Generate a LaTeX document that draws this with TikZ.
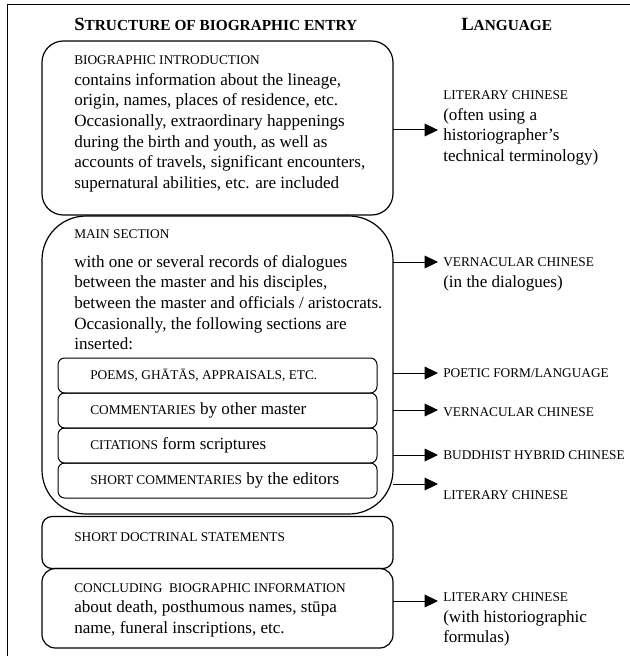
\documentclass[tikz,border=0pt]{standalone}
\usepackage{fontspec}
\setmainfont{Liberation Serif}
\usetikzlibrary{arrows.meta,calc,positioning}
% small capitals made by hand
\newcommand\smc[1]{{\fontsize{10}{15.5}\selectfont #1}}
\newcommand\hdc[2]{{\bfseries\fontsize{14}{16}\selectfont #1}{\bfseries\fontsize{11.5}{16}\selectfont #2}}

\begin{document}
\begin{tikzpicture}[x=0.75pt,y=-0.75pt,
  box/.style={draw,line width=0.9pt,minimum width=263.25pt,inner sep=0pt,outer sep=0pt},
  subbox/.style={draw,line width=0.75pt,rounded corners=5pt,minimum width=239.25pt,
    minimum height=26.25pt,inner sep=0pt,outer sep=0pt},
  txt/.style={anchor=north west,inner sep=0pt,align=left,font=\fontsize{12.8}{15.5}\selectfont},
  subtxt/.style={txt,anchor=west,right=24pt of #1.west},
  arr/.style={line width=0.75pt,-{Triangle[length=10pt,width=9.5pt]}}]
  \useasboundingbox (0,0) rectangle (630,656);
  \draw[line width=0.75pt] (7,656) -- (7,5) -- (630,5);

  % headings
  \node[anchor=base west,inner sep=0pt] (head1) at (74,31) {\hdc{S}{TRUCTURE OF BIOGRAPHIC ENTRY}};
  \node[anchor=base west,inner sep=0pt] (head2) at (461,31) {\hdc{L}{ANGUAGE}};

  % left column
  \node[box,rounded corners=16pt,minimum height=130.5pt] (intro) at (217.5,128) {};
  \node[box,rounded corners=33pt,minimum height=223.5pt] (main) at (217.5,365) {};
  \node[box,rounded corners=7.5pt,minimum height=39pt] (doctr) at (217.5,542.5) {};
  \node[box,rounded corners=10pt,minimum height=59.6pt] (concl) at (217.5,608.25) {};

  \node[txt] (introtxt) at (74,55.5) {\smc{BIOGRAPHIC INTRODUCTION}\\
    contains information about the lineage,\\
    origin, names, places of residence, etc.\\
    Occasionally, extraordinary happenings\\
    during the birth and youth, as well as\\
    accounts of travels, significant encounters,\\
    supernatural abilities, etc. are included};
  \node[txt] (maintxt) at (74,229.5) {\smc{MAIN SECTION}\\[6pt]
    with one or several records of dialogues\\
    between the master and his disciples,\\
    between the master and officials / aristocrats.\\
    Occasionally, the following sections are\\
    inserted:};
  \node[subbox] (poems) at (217.5,375.5) {};
  \node[subbox] (comm) at (217.5,410.5) {};
  \node[subbox] (cit) at (217.5,445.5) {};
  \node[subbox] (short) at (217.5,480.5) {};
  \node[subtxt=poems] (poemstxt) {\smc{POEMS, GHĀTĀS, APPRAISALS, ETC.}};
  \node[subtxt=comm] (commtxt) {\smc{COMMENTARIES} by other master};
  \node[subtxt=cit] (cittxt) {\smc{CITATIONS} form scriptures};
  \node[subtxt=short] (shorttxt) {\smc{SHORT COMMENTARIES} by the editors};
  \node[txt,anchor=base west] (doctrtxt) at (74,541.5) {\smc{SHORT DOCTRINAL STATEMENTS}};
  \node[txt] (concltxt) at (74,583) {\smc{CONCLUDING\ \ BIOGRAPHIC INFORMATION}\\
    about death, posthumous names, stūpa\\
    name, funeral inscriptions, etc.};

  % right column
  \node[txt] (lit1) at (443,90.5) {\smc{LITERARY CHINESE}\\(often using a\\historiographer's\\technical terminology)};
  \node[txt] (vern1) at (443,257.5) {\smc{VERNACULAR CHINESE}\\(in the dialogues)};
  \node[txt,anchor=base west] (poetic) at (443,377.5) {\smc{POETIC FORM/LANGUAGE}};
  \node[txt,anchor=base west] (vern2) at (443,416.5) {\smc{VERNACULAR CHINESE}};
  \node[txt,anchor=base west] (buddh) at (443,459) {\smc{BUDDHIST HYBRID CHINESE}};
  \node[txt,anchor=base west] (lit2) at (443,499.5) {\smc{LITERARY CHINESE}};
  \node[txt] (lit3) at (443,592.5) {\smc{LITERARY CHINESE}\\(with historiographic\\formulas)};

  % arrows
  \coordinate (t1) at (438,130);
  \coordinate (t2) at (438,262);
  \coordinate (t3) at (438,373);
  \coordinate (t4) at (438,410);
  \coordinate (t5) at (438,455);
  \coordinate (t6) at (438,484);
  \coordinate (t7) at (438,601);
  \draw[arr] (intro.east |- t1) -- (t1);
  \foreach \t in {t2,t3,t4,t5,t6}
    \draw[arr] (main.east |- \t) -- (\t);
  \draw[arr] (concl.east |- t7) -- (t7);
\end{tikzpicture}
\end{document}
